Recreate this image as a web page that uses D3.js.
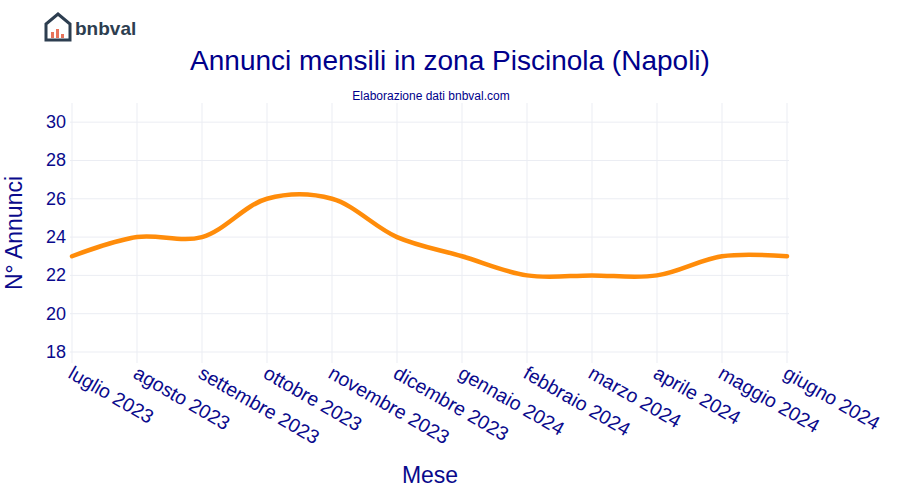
<!DOCTYPE html>
<html><head><meta charset="utf-8">
<script src="https://cdn.jsdelivr.net/npm/d3@7"></script>
<style>body{margin:0;background:#fff}text{font-family:"Liberation Sans",Arial,sans-serif}</style>
</head><body><svg id="c" width="900" height="500"></svg>
<script>
const months=["luglio 2023","agosto 2023","settembre 2023","ottobre 2023","novembre 2023","dicembre 2023","gennaio 2024","febbraio 2024","marzo 2024","aprile 2024","maggio 2024","giugno 2024"];
const annunci=[23,24,24,26,26,24,23,22,22,22,23,23];
const yTicks=[18,20,22,24,26,28,30];
const navy="#0a0a8c";
const svg=d3.select("#c");
const x=d3.scalePoint().domain(months).range([72,787]);
const y=d3.scaleLinear().domain([17.4,31]).range([363.5,103]);
const g=svg.append("g");
g.selectAll(".gy").data(yTicks).join("line").attr("x1",70).attr("x2",789).attr("y1",d=>y(d)).attr("y2",d=>y(d)).attr("stroke","#ebedf3");
g.selectAll(".gx").data(months).join("line").attr("x1",d=>x(d)).attr("x2",d=>x(d)).attr("y1",103).attr("y2",363).attr("stroke","#ebedf3");
g.selectAll(".yl").data(yTicks).join("text").attr("x",66).attr("y",d=>y(d)+6).attr("text-anchor","end").attr("font-size",18).attr("fill",navy).text(d=>d);
g.selectAll(".xl").data(months).join("text").attr("transform",d=>`translate(${x(d)-5},${377}) rotate(30)`).attr("font-size",19.5).attr("fill",navy).text(d=>d);
const line=d3.line().x((d,i)=>x(months[i])).y(d=>y(d)).curve(d3.curveCatmullRom.alpha(0.5));
g.append("path").datum(annunci).attr("d",line).attr("fill","none").attr("stroke","#ff8c0a").attr("stroke-width",4.5).attr("stroke-linecap","round");
svg.append("text").attr("x",450).attr("y",70).attr("text-anchor","middle").attr("font-size",28).attr("fill","#00008b").text("Annunci mensili in zona Piscinola (Napoli)");
svg.append("text").attr("x",431).attr("y",100).attr("text-anchor","middle").attr("font-size",12).attr("fill","#00008b").text("Elaborazione dati bnbval.com");
svg.append("text").attr("transform","translate(22,233) rotate(-90)").attr("text-anchor","middle").attr("font-size",23).attr("fill",navy).text("N° Annunci");
svg.append("text").attr("x",430).attr("y",483).attr("text-anchor","middle").attr("font-size",23).attr("fill",navy).text("Mese");
const lg=svg.append("g");
lg.append("path").attr("d","M46,40 L46,24 L58,14 L70,24 L70,40 Z").attr("fill","none").attr("stroke","#2d3e50").attr("stroke-width",3);
lg.append("rect").attr("x",51).attr("y",32).attr("width",3).attr("height",6).attr("fill","#e8735a");
lg.append("rect").attr("x",56).attr("y",29).attr("width",3).attr("height",9).attr("fill","#e8735a");
lg.append("rect").attr("x",61).attr("y",34).attr("width",3).attr("height",4).attr("fill","#e8735a");
lg.append("text").attr("x",75).attr("y",35).attr("font-size",19).attr("font-weight","bold").attr("fill","#2d3e50").text("bnbval");
</script></body></html>
